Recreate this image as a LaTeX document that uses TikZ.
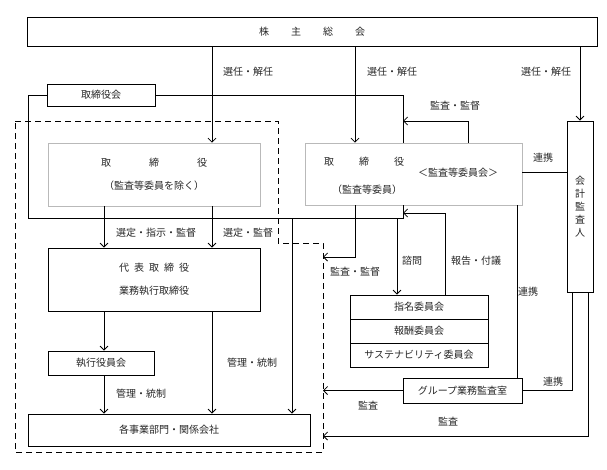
\documentclass[tikz,border=0pt]{standalone}
\usepackage{fontspec}
\newfontfamily\jp{Noto Sans CJK JP}
\usepackage{tikz}
\usetikzlibrary{arrows.meta}
\tikzstyle{box}=[shape=rectangle,draw,fill=white,inner sep=0pt,line width=0.8pt]
\tikzstyle{gbox}=[shape=rectangle,draw=gray!55,fill=white,inner sep=0pt,line width=0.6pt]
\tikzstyle{arr}=[-{Straight Barb[length=4pt,width=8pt]},line width=0.8pt]
\tikzstyle{ln}=[line width=0.8pt]
\tikzstyle{dsh}=[line width=0.8pt,dash pattern=on 6pt off 4pt]
\tikzstyle{lbl}=[inner sep=0pt]

\begin{document}
\begin{tikzpicture}[x=1pt,y=-1pt,font=\jp\fontsize{10}{12}\selectfont,text=black!85]
            \useasboundingbox (0,0) rectangle (607,469);
            % boxes
            \node[box,minimum width=570pt,minimum height=29pt] (soukai) at (312,31.5)
                {株\hspace{22pt}主\hspace{22pt}総\hspace{22pt}会};
            \node[box,minimum width=108pt,minimum height=22pt] (torikai) at (101,95) {取締役会};
            \node[gbox,minimum width=212pt,minimum height=63pt,align=center] (tori) at (154,174.5)
                {取\hspace{38pt}締\hspace{38pt}役\\[11pt]（監査等委員を除く）};
            \node[gbox,minimum width=217pt,minimum height=62pt] (kansa) at (413.5,174) {};
            \node[lbl] (kansaA) at (364,162) {取\hspace{25pt}締\hspace{25pt}役};
            \node[lbl] (kansaB) at (367,190) {（監査等委員）};
            \node[lbl] (kansaC) at (458,173) {＜監査等委員会＞};
            \node[box,minimum width=26pt,minimum height=171pt,align=center,
                font=\jp\fontsize{10}{13}\selectfont] (kaikei) at (580,206.5)
                {会\\計\\監\\査\\人};
            \node[box,minimum width=212pt,minimum height=63pt,align=center] (daihyo) at (154,279.5)
                {代\hspace{5pt}表\hspace{5pt}取\hspace{5pt}締\hspace{5pt}役\\[11pt]業務執行取締役};
            \node[box,minimum width=106pt,minimum height=24pt] (shikko) at (101,363) {執行役員会};
            \node[box,minimum width=282pt,minimum height=32pt] (jigyo) at (169,430) {各事業部門・関係会社};
            \node[box,minimum width=138pt,minimum height=24pt] (shimei) at (419,307) {指名委員会};
            \node[box,minimum width=138pt,minimum height=24pt] (hoshu) at (419,331) {報酬委員会};
            \node[box,minimum width=138pt,minimum height=24pt] (sust) at (419,355) {サステナビリティ委員会};
            \node[box,minimum width=119pt,minimum height=25pt] (group) at (462.5,390.5) {グループ業務監査室};

            % lanes and corners
            \coordinate (xa) at (104,0);
            \coordinate (xb) at (212,0);
            \coordinate (xc) at (355,0);
            \coordinate (xd) at (517,0);
            \coordinate (xe) at (580,0);
            \coordinate (xf) at (572,0);
            \coordinate (xg) at (588,0);
            \coordinate (dR) at (323,0);
            \coordinate (lp) at (28,218);
            \coordinate (lq) at (403,218);
            \coordinate (lr) at (292,218);
            \coordinate (ls) at (397,218);
            \coordinate (rp) at (445,213);
            \coordinate (up) at (468,121);

            % dashed frame
            \draw[dsh] (15,121) -- (278,121) -- (278,243) -- (323,243) -- (323,452) -- (15,452) -- cycle;

            % shareholders
            \draw[arr] (soukai.south -| xb) -- (tori.north -| xb);
            \draw[arr] (soukai.south -| xc) -- (kansa.north -| xc);
            \draw[arr] (soukai.south -| xe) -- (kaikei.north);

            % board loop
            \draw[ln] (torikai.west) -| (lp) -- (lq) -- (lq |- kansa.south);
            \draw[ln] (torikai.east) -| (kansa.north -| lq);
            \draw[arr] (lr) -- (lr |- jigyo.north);
            \draw[arr] (ls) -- (ls |- shimei.north);
            \draw[arr] (rp |- shimei.north) -- (rp) -- (lq |- rp);
            \draw[arr] (up |- kansa.north) -- (up) -- (lq |- up);

            % executives
            \draw[arr] (tori.south -| xa) -- (daihyo.north -| xa);
            \draw[arr] (tori.south -| xb) -- (daihyo.north -| xb);
            \draw[arr] (daihyo.south -| xa) -- (shikko.north -| xa);
            \draw[arr] (shikko.south -| xa) -- (jigyo.north -| xa);
            \draw[arr] (daihyo.south -| xb) -- (jigyo.north -| xb);

            % audit
            \draw[arr] (kansa.south -| xc) |- (dR |- 0,257);
            \draw[ln] (kansa.east |- 0,172) -- (kaikei.west |- 0,172);
            \draw[ln] (kansa.south -| xd) -- (group.north -| xd);
            \draw[arr] (group.west) -- (dR |- group.west);
            \draw[ln] (group.east) -| (kaikei.south -| xf);
            \draw[arr] (kaikei.south -| xg) |- (dR |- 0,436);

            % labels
            \node[lbl] (s1) at (248,72) {選任・解任};
            \node[lbl] (s2) at (392,72) {選任・解任};
            \node[lbl] (s3) at (546,72) {選任・解任};
            \node[lbl] (k1) at (455,106) {監査・監督};
            \node[lbl] (r1) at (543,158) {連携};
            \node[lbl] (e1) at (156,233) {選定・指示・監督};
            \node[lbl] (e2) at (248,233) {選定・監督};
            \node[lbl] (k2) at (355,272) {監査・監督};
            \node[lbl] (q1) at (412,261) {諮問};
            \node[lbl] (h1) at (476,261) {報告・付議};
            \node[lbl] (r2) at (528,292) {連携};
            \node[lbl] (m1) at (252,363) {管理・統制};
            \node[lbl] (m2) at (141,394) {管理・統制};
            \node[lbl] (r3) at (553,382) {連携};
            \node[lbl] (a1) at (368,406) {監査};
            \node[lbl] (a2) at (448,422) {監査};
        \end{tikzpicture}
\end{document}
